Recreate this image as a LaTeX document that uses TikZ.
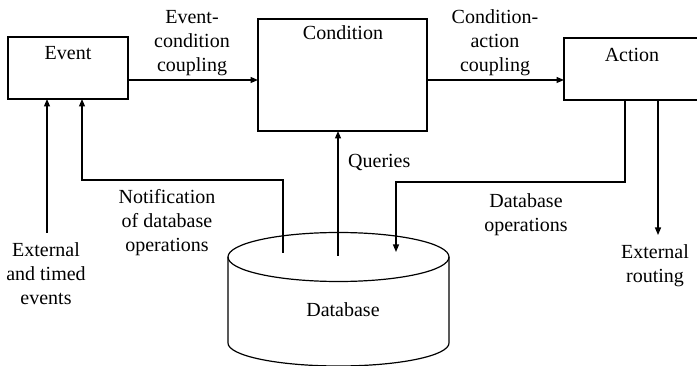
\documentclass[tikz,border=0pt]{standalone}
\usepackage{fontspec}
\setmainfont{Liberation Serif}
\usetikzlibrary{arrows.meta}
\begin{document}
\begin{tikzpicture}[x=1pt,y=-1pt,
  every node/.style={font=\fontsize{20}{24}\selectfont},
  box/.style={draw,line width=1.2pt,inner sep=0pt,outer sep=0pt,anchor=north west},
  lbl/.style={align=center,inner sep=0pt,anchor=base},
  conn/.style={line width=1.2pt},
  arr/.style={conn,-{Triangle[width=6pt,length=7.5pt]}}]
\useasboundingbox (0,0) rectangle (697,366);
\clip (0,0) rectangle (697,366);
% boxes
\node[box,minimum width=120pt,minimum height=62pt] (event) at (8,37) {};
\node[box,minimum width=169pt,minimum height=112pt] (cond) at (258,19) {};
\node[box,minimum width=145pt,minimum height=62pt] (act) at (564,38) {};
\node[lbl] (tevent) at (68,60) {Event};
\node[lbl] (tcond) at (343,40) {Condition};
\node[lbl] (tact) at (632,62) {Action};
% database cylinder
\draw[line width=1.2pt] (228,257) -- (228,343) arc[start angle=180,end angle=0,x radius=110.5,y radius=23] -- (449,257);
\draw[line width=1.2pt] (338.5,257) ellipse[x radius=110.5,y radius=24.5];
\node[lbl] (db) at (343,317) {Database};
% helper coordinates
\coordinate (h1) at (0,80);
\coordinate (ext) at (47,233);
\coordinate (n1) at (283,253);
\coordinate (nv) at (82,180);
\coordinate (q) at (338,256);
\coordinate (dop) at (625,182);
\coordinate (dbin) at (396,252);
\coordinate (er) at (658,235);
% connectors
\draw[arr] (event.east |- h1) -- (cond.west |- h1);
\draw[arr] (cond.east |- h1) -- (act.west |- h1);
\draw[arr] (ext) -- (ext |- event.south);
\draw[arr] (n1) |- (nv) -- (nv |- event.south);
\draw[arr] (q) -- (q |- cond.south);
\draw[arr] (dop |- act.south) -- (dop) -| (dbin);
\draw[arr] (er |- act.south) -- (er);
% labels
\node[lbl] (lec) at (192,72) {Event-\\condition\\coupling};
\node[lbl] (lca) at (495,72) {Condition-\\action\\coupling};
\node[lbl] (lext) at (46,305) {External\\and timed\\events};
\node[lbl] (lnot) at (167,252) {Notification\\of database\\operations};
\node[lbl,anchor=base west] (lq) at (348,168) {Queries};
\node[lbl] (ldop) at (526,232) {Database\\operations};
\node[lbl] (lext2) at (655,283) {External\\routing};
\end{tikzpicture}
\end{document}
